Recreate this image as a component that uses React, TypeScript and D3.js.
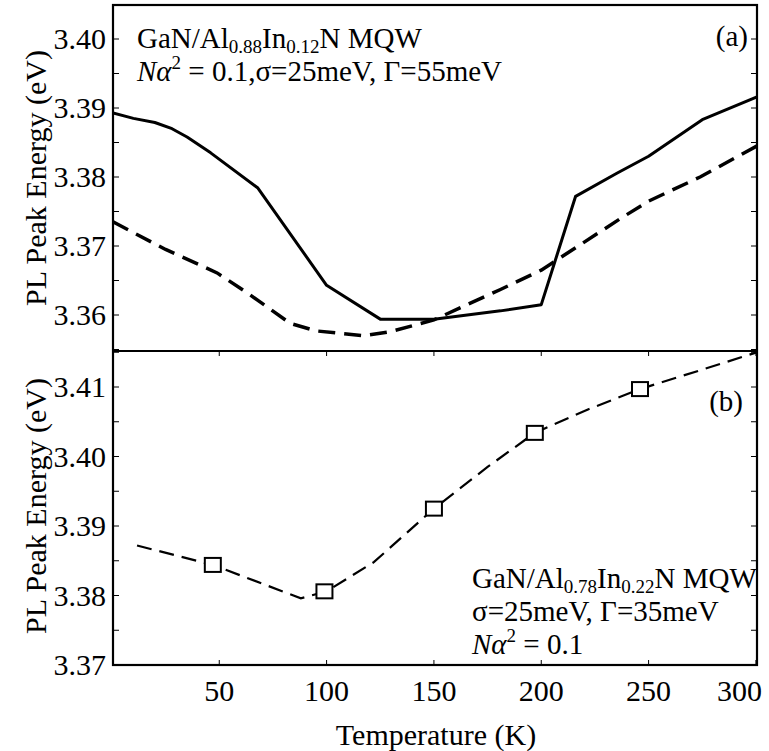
import React from "react";
import * as d3 from "d3";

// ---- data ----
const xTicks = [50, 100, 150, 200, 250, 300];
const topYTicks = [3.36, 3.37, 3.38, 3.39, 3.40];
const botYTicks = [3.37, 3.38, 3.39, 3.40, 3.41];

const solidT = [0.5, 10, 20, 28, 35, 46, 68, 100, 125, 150, 181, 200, 216, 235, 250, 275, 300.5];
const solidV = [3.3893, 3.3885, 3.3879, 3.387, 3.3858, 3.3835, 3.3784, 3.3643, 3.3594, 3.3594, 3.3606, 3.3615, 3.3772, 3.3805, 3.383, 3.3883, 3.3916];

const dashT = [0.5, 25, 49, 64, 83, 95, 117, 130, 150, 181, 200, 237, 250, 274, 300.5];
const dashV = [3.3735, 3.3695, 3.3661, 3.363, 3.3588, 3.3577, 3.357, 3.3576, 3.3593, 3.3637, 3.3665, 3.374, 3.3765, 3.38, 3.3845];

const botLineT = [11.7, 47, 88, 100, 122, 150, 175, 197, 222, 246, 275, 300.5];
const botLineV = [3.3872, 3.3844, 3.3796, 3.3806, 3.3848, 3.3925, 3.3985, 3.4034, 3.4068, 3.4097, 3.4125, 3.415];

const sqT = [47, 99, 150, 197, 246];
const sqV = [3.3844, 3.3806, 3.3925, 3.4034, 3.4097];

const FF = "Liberation Serif";

function T(props: any) {
  return <text fontFamily={FF} {...props} />;
}

export default function App() {
  const L = 113, R = 757, T1 = 5, MID = 351, B = 665;
  const x = d3.scaleLinear().domain([0.5, 300.5]).range([L, R]);
  const yTop = d3.scaleLinear().domain([3.40, 3.36]).range([39, 315]);
  const yBot = d3.scaleLinear().domain([3.41, 3.37]).range([387, 665]);

  const topLine = d3.line<number>().x((_, i) => x(solidT[i])).y((v) => yTop(v));
  const topDash = d3.line<number>().x((_, i) => x(dashT[i])).y((v) => yTop(v));
  const botLine = d3.line<number>().x((_, i) => x(botLineT[i])).y((v) => yBot(v));

  const minor = (ticks: number[]) => {
    const out: number[] = [];
    for (let i = 0; i < ticks.length; i++) {
      out.push(ticks[i]);
      out.push(ticks[i] + 0.005);
    }
    return out;
  };
  const topAll = [3.355, ...minor(topYTicks)].filter((v) => v <= 3.4049 && v >= 3.3549);
  const botAll = minor(botYTicks).filter((v) => v <= 3.4151);

  const fs = 30;
  const afs = 29;
  const sub = 19;
  return (
    <svg width={769} height={751} style={{ position: "absolute", left: 0, top: 0, background: "#fff" }}>
      <defs>
        <clipPath id="ctop"><rect x={L} y={T1} width={R - L} height={MID - T1} /></clipPath>
        <clipPath id="cbot"><rect x={L} y={MID} width={R - L} height={B - MID} /></clipPath>
      </defs>

      {/* top panel curves */}
      <g clipPath="url(#ctop)" fill="none" stroke="#000">
        <path d={topLine(solidV) || ""} strokeWidth={3} strokeLinejoin="round" />
        <path d={topDash(dashV) || ""} strokeWidth={3.5} strokeDasharray="17,9" />
      </g>

      {/* bottom panel curve */}
      <g clipPath="url(#cbot)" fill="none" stroke="#000">
        <path d={botLine(botLineV) || ""} strokeWidth={2.2} strokeDasharray="15,8" />
      </g>
      {sqV.map((v, i) => (
        <rect key={i} x={x(sqT[i]) - 8} y={yBot(v) - 7} width={16} height={14} fill="#fff" stroke="#000" strokeWidth={2} />
      ))}

      {/* y ticks */}
      {topAll.map((v, i) => (
        <g key={"tt" + i} stroke="#000" strokeWidth={1}>
          <line x1={L} x2={L + 6} y1={yTop(v)} y2={yTop(v)} />
          <line x1={R - 6} x2={R} y1={yTop(v)} y2={yTop(v)} />
        </g>
      ))}
      {botAll.map((v, i) => (
        <g key={"bt" + i} stroke="#000" strokeWidth={1}>
          <line x1={L} x2={L + 6} y1={yBot(v)} y2={yBot(v)} />
          <line x1={R - 6} x2={R} y1={yBot(v)} y2={yBot(v)} />
        </g>
      ))}
      {xTicks.map((t, i) => (
        <g key={"xt" + i} stroke="#000" strokeWidth={1}>
          <line x1={x(t)} x2={x(t)} y1={B} y2={B - 5} />
          <line x1={x(t)} x2={x(t)} y1={MID} y2={MID + 5} />
        </g>
      ))}

      {/* frames */}
      <rect x={L} y={T1} width={R - L} height={B - T1} fill="none" stroke="#000" strokeWidth={2.2} />
      <line x1={L} x2={R} y1={MID} y2={MID} stroke="#000" strokeWidth={2.2} />

      {/* y tick labels */}
      {topYTicks.map((v) => (
        <T key={"tl" + v} x={106} y={yTop(v) + 10} fontSize={fs} textAnchor="end">{v.toFixed(2)}</T>
      ))}
      {botYTicks.map((v) => (
        <T key={"bl" + v} x={106} y={yBot(v) + 10} fontSize={fs} textAnchor="end">{v.toFixed(2)}</T>
      ))}
      {/* x tick labels */}
      {xTicks.map((t) => (
        <T key={"xl" + t} x={t === 300 ? 762 : x(t)} y={701} fontSize={fs} textAnchor={t === 300 ? "end" : "middle"}>{String(t)}</T>
      ))}

      {/* axis titles */}
      <T x={436} y={745} fontSize={fs} textAnchor="middle">Temperature (K)</T>
      <T transform="translate(46,178) rotate(-90)" fontSize={fs} textAnchor="middle">PL Peak Energy (eV)</T>
      <T transform="translate(46,506) rotate(-90)" fontSize={fs} textAnchor="middle">PL Peak Energy (eV)</T>

      {/* annotations top */}
      <T x={137} y={48} fontSize={afs}>
        GaN/Al<tspan fontSize={sub} dy={5}>0.88</tspan><tspan dy={-5}>In</tspan><tspan fontSize={sub} dy={5}>0.12</tspan><tspan dy={-5}>N MQW</tspan>
      </T>
      <T x={137} y={81} fontSize={afs}>
        <tspan fontStyle="italic">Nα</tspan><tspan fontSize={sub} dy={-12}>2</tspan><tspan dy={12}> = 0.1,σ=25meV, Γ=55meV</tspan>
      </T>
      <T x={748} y={46} fontSize={afs} textAnchor="end">(a)</T>

      {/* annotations bottom */}
      <T x={472} y={588} fontSize={afs}>
        GaN/Al<tspan fontSize={sub} dy={5}>0.78</tspan><tspan dy={-5}>In</tspan><tspan fontSize={sub} dy={5}>0.22</tspan><tspan dy={-5}>N MQW</tspan>
      </T>
      <T x={472} y={621} fontSize={afs}>σ=25meV, Γ=35meV</T>
      <T x={472} y={654} fontSize={afs}>
        <tspan fontStyle="italic">Nα</tspan><tspan fontSize={sub} dy={-12}>2</tspan><tspan dy={12}> = 0.1</tspan>
      </T>
      <T x={743} y={411} fontSize={afs} textAnchor="end">(b)</T>
    </svg>
  );
}
